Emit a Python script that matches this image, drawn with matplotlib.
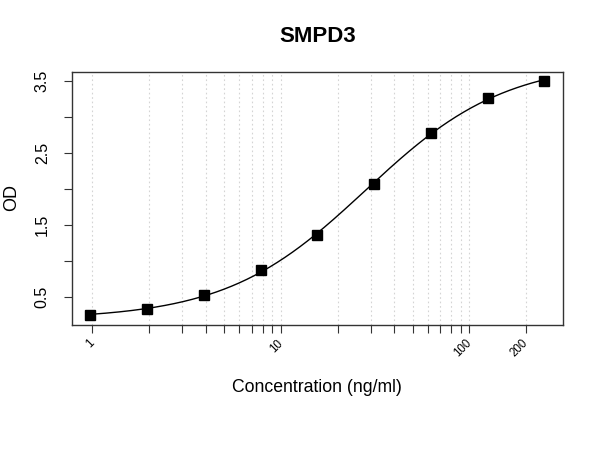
import numpy as np
import matplotlib
matplotlib.use("Agg")
import matplotlib.pyplot as plt
import matplotlib.transforms as mtransforms
from matplotlib.ticker import FixedLocator, NullLocator

plt.rcParams['font.family'] = ['Liberation Sans', 'DejaVu Sans']

#### data
conc = [0.977, 1.953, 3.906, 7.8125, 15.625, 31.25, 62.5, 125, 250]
od = [0.242, 0.33, 0.524, 0.867, 1.36, 2.065, 2.77, 3.26, 3.5]
x_ticks = [1, 10, 100, 200]
x_grid = [1, 2, 3, 4, 5, 6, 7, 8, 9, 10, 20, 30, 40, 50, 60, 70, 80, 90, 100, 200]
y_ticks = [0.5, 1.0, 1.5, 2.0, 2.5, 3.0, 3.5]
y_labels = ["0.5", "", "1.5", "", "2.5", "", "3.5"]


def fit_4pl(x, y):
    # grid over c, b ; a and d are linear
    x = np.asarray(x); y = np.asarray(y)
    best = None
    for lc in np.linspace(0, 3.5, 351):
        c = 10 ** lc
        for b in np.linspace(0.3, 3.0, 271):
            f = 1 / (1 + (x / c) ** b)
            A = np.column_stack([f, 1 - f])
            coef, *_ = np.linalg.lstsq(A, y, rcond=None)
            err = np.sum((A @ coef - y) ** 2)
            if best is None or err < best[0]:
                best = (err, coef[0], coef[1], c, b)
    return best[1:]


def plot():
    a, d, c, b = fit_4pl(conc, od)
    xs = np.logspace(np.log10(conc[0]), np.log10(conc[-1]), 300)
    ys = d + (a - d) / (1 + (xs / c) ** b)

    fig = plt.figure(figsize=(6, 4.5), dpi=100)
    ax = fig.add_axes([0.12, 0.278, 0.818, 0.562])
    ax.set_xscale("log")

    for g in x_grid:
        ax.axvline(g, color="#d4d4d4", lw=0.8, ls=(0, (1.5, 2.5)), zorder=0)

    ax.plot(xs, ys, color="black", lw=1.0, zorder=2)
    ax.plot(conc, od, "s", color="black", ms=7.5, zorder=3)

    ax.set_xlim(0.78, 313)
    ax.set_ylim(0.107, 3.62)

    ax.xaxis.set_major_locator(FixedLocator(x_grid))
    ax.xaxis.set_minor_locator(NullLocator())
    ax.set_xticklabels([str(g) if g in x_ticks else "" for g in x_grid],
                       rotation=45, fontsize=8.3, ha="right", va="center",
                       rotation_mode="anchor")
    shift = mtransforms.ScaledTranslation(3 / 100, 0, fig.dpi_scale_trans)
    for lab in ax.get_xticklabels():
        lab.set_transform(lab.get_transform() + shift)
    ax.set_yticks(y_ticks)
    ax.set_yticklabels(y_labels, rotation=90, va="center", fontsize=11.5)
    ax.tick_params(axis="both", length=6, width=0.8, color="#333333")
    ax.tick_params(axis="x", pad=6)
    ax.tick_params(axis="y", pad=10)
    for s in ax.spines.values():
        s.set_linewidth(1.0)
        s.set_color("#333333")

    fig.text(0.529, 0.918, "SMPD3", ha="center", va="center",
             fontsize=16, fontweight="bold")
    fig.text(0.528, 0.14, "Concentration (ng/ml)", ha="center", va="center",
             fontsize=12.7)
    fig.text(0.02, 0.56, "OD", ha="center", va="center", rotation=90,
             fontsize=13)

    fig.savefig("out.png", dpi=100)


if __name__ == "__main__":
    plot()
